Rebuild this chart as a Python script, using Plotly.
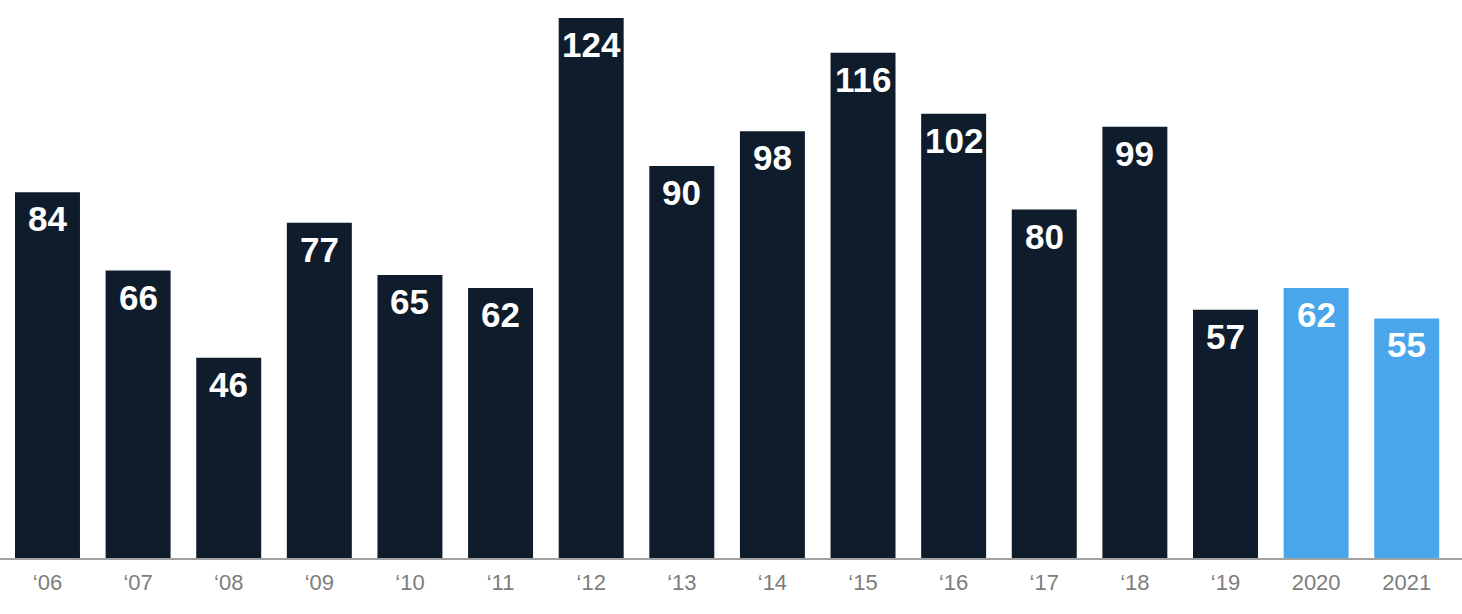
import plotly.graph_objects as go

categories = ["‘06", "‘07", "‘08", "‘09", "‘10", "‘11", "‘12", "‘13", "‘14", "‘15",
              "‘16", "‘17", "‘18", "‘19", "2020", "2021"]
values = [84, 66, 46, 77, 65, 62, 124, 90, 98, 116, 102, 80, 99, 57, 62, 55]
highlight = [False] * 14 + [True, True]

DARK = "#0e1c2b"
BLUE = "#4aa6ea"
colors = [BLUE if h else DARK for h in highlight]

x = list(range(len(categories)))

fig = go.Figure()
fig.add_trace(go.Bar(
    x=x, y=values, marker=dict(color=colors, line=dict(width=0)),
    hoverinfo="skip",
))

for xi, v in zip(x, values):
    fig.add_annotation(
        x=xi, y=v, text=str(v), showarrow=False,
        yanchor="top", yshift=-5,
        font=dict(family="Liberation Sans, Arial, sans-serif", size=35, color="white", weight="bold"),
    )

fig.update_layout(
    width=1462, height=614,
    margin=dict(l=0, r=0, t=18, b=56),
    plot_bgcolor="white", paper_bgcolor="white",
    bargap=0.283,
    showlegend=False,
    xaxis=dict(
        tickmode="array", tickvals=x, ticktext=categories,
        range=[-0.524, 15.61],
        showgrid=False, zeroline=False,
        showline=True, linecolor="#a0a0a0", linewidth=2,
        ticks="", ticklabelstandoff=4,
        tickfont=dict(family="Liberation Sans, Arial, sans-serif", size=22, color="#7d7d7d"),
    ),
    yaxis=dict(range=[0, 124], visible=False, showgrid=False, zeroline=False),
)

fig.write_html("out.html", config={"displayModeBar": False},
               post_script="document.body.style.margin='0';")
